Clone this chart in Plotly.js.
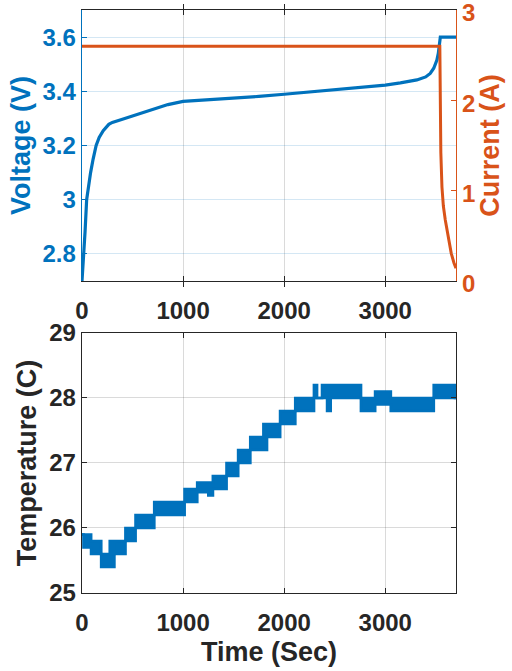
<!DOCTYPE html>
<html>
<head>
<meta charset="utf-8">
<script src="https://cdn.plot.ly/plotly-3.0.1.min.js"></script>
<style>html,body{margin:0;padding:0;background:#fff;}#chart{width:512px;height:671px;}</style>
</head>
<body>
<div id="chart"></div>
<script>
// ---- Data ----
// Voltage vs time (top panel, left axis)
var voltTime = [0, 5, 10, 20, 30, 46, 65, 85, 110, 140, 170, 210, 265, 300, 400, 508, 600, 740, 850, 1000, 1250, 1500, 1750, 2000, 2250, 2500, 2750, 3000, 3150, 3313, 3400, 3445, 3480, 3511, 3525, 3538, 3545, 3700];
var voltage  = [2.70, 2.74, 2.77, 2.81, 2.88, 3.00, 3.06, 3.10, 3.15, 3.20, 3.23, 3.255, 3.278, 3.285, 3.297, 3.31, 3.321, 3.337, 3.351, 3.363, 3.368, 3.374, 3.381, 3.389, 3.397, 3.405, 3.414, 3.423, 3.431, 3.442, 3.453, 3.466, 3.485, 3.515, 3.54, 3.58, 3.6, 3.6];
// Current vs time (top panel, right axis)
var currTime = [0, 3540, 3545, 3550, 3561, 3575, 3594, 3621, 3653, 3680, 3700];
var current  = [2.6, 2.6, 2.0, 1.42, 1.04, 0.83, 0.675, 0.49, 0.306, 0.2, 0.14];
// Temperature (bottom panel): reading band per interval, lower and upper value
var tempTime = [0, 15, 90, 190, 275, 300, 320, 430, 530, 715, 1015, 1140, 1250, 1295, 1430, 1545, 1665, 1795, 1830, 1960, 2110, 2295, 2325, 2375, 2425, 2460, 2760, 2900, 3055, 3480, 3690, 3710];
var tempLow  = [25.9, 25.7, 25.6, 25.4, 25.4, 25.4, 25.6, 25.8, 26.0, 26.2, 26.4, 26.55, 26.5, 26.6, 26.8, 27.0, 27.2, 27.2, 27.4, 27.6, 27.8, 28.0, 28.0, 28.0, 27.8, 28.0, 27.8, 27.9, 27.8, 28.0, 28.0, 28.0];
var tempHigh = [25.9, 25.9, 25.8, 25.6, 25.8, 25.6, 25.8, 26.0, 26.2, 26.4, 26.6, 26.7, 26.7, 26.8, 27.0, 27.2, 27.4, 27.6, 27.6, 27.8, 28.0, 28.2, 28.0, 28.2, 28.2, 28.2, 28.0, 28.1, 28.0, 28.2, 28.0, 28.0];
// Ticks
var xTicks = [0, 1000, 2000, 3000];
var vTicks = [2.8, 3, 3.2, 3.4, 3.6];
var vTickText = ['2.8', '3', '3.2', '3.4', '3.6'];
var iTicks = [0, 1, 2, 3];
var tTicks = [25, 26, 27, 28, 29];

var BLUE = '#0072BD', ORANGE = '#D95319', DARK = '#262626';
var FAM = 'Liberation Sans, Arial, Helvetica, sans-serif';
var tickFont = function (c) { return {family: FAM, size: 24, color: c, weight: 'bold'}; };
var titleFont = function (c) { return {family: FAM, size: 27, color: c, weight: 'bold'}; };
var GRID = 'rgba(38,38,38,0.17)';
var BGRID = 'rgba(0,114,189,0.17)';

var traces = [
  {x: voltTime, y: voltage, xaxis: 'x', yaxis: 'y', mode: 'lines', line: {color: BLUE, width: 3.2}, hoverinfo: 'skip'},
  {x: currTime, y: current, xaxis: 'x', yaxis: 'y2', mode: 'lines', line: {color: ORANGE, width: 3}, hoverinfo: 'skip'},
  {x: tempTime, y: tempLow, xaxis: 'x2', yaxis: 'y3', mode: 'lines', line: {color: BLUE, width: 2.7, shape: 'hv'}, hoverinfo: 'skip'},
  {x: tempTime, y: tempHigh, xaxis: 'x2', yaxis: 'y3', mode: 'lines', fill: 'tonexty', fillcolor: BLUE, line: {color: BLUE, width: 2.7, shape: 'hv'}, hoverinfo: 'skip'}
];

var xCommon = {
  range: [0, 3700], tickmode: 'array', tickvals: xTicks, ticks: 'inside', ticklen: 5, tickwidth: 1,
  tickcolor: DARK, showline: true, linecolor: DARK, linewidth: 1.3, mirror: 'allticks',
  showgrid: true, gridcolor: GRID, gridwidth: 1, zeroline: false, tickfont: tickFont(DARK),
  ticklabelstandoff: 8, ticklabeloverflow: 'allow'
};

var layout = {
  width: 512, height: 671,
  margin: {l: 82, r: 56, t: 10, b: 78},
  paper_bgcolor: '#fff', plot_bgcolor: '#fff',
  showlegend: false,
  xaxis: Object.assign({}, xCommon, {anchor: 'y', domain: [0, 1]}),
  yaxis: {
    domain: [0.5352, 1], anchor: 'x', range: [2.7, 3.7], tickmode: 'array', tickvals: vTicks, ticktext: vTickText,
    ticks: 'inside', ticklen: 5, tickwidth: 1, tickcolor: BLUE, showline: true, linecolor: BLUE, linewidth: 1.3,
    showgrid: true, gridcolor: BGRID, zeroline: false, tickfont: tickFont(BLUE), ticklabeloverflow: 'allow',
    title: {text: 'Voltage (V)', font: titleFont(BLUE), standoff: 4}
  },
  yaxis2: {
    overlaying: 'y', side: 'right', anchor: 'x', range: [0, 3], tickmode: 'array', tickvals: iTicks,
    ticks: 'inside', ticklen: 5, tickwidth: 1, tickcolor: ORANGE, showline: true, linecolor: ORANGE, linewidth: 1.3,
    showgrid: false, zeroline: false, tickfont: tickFont(ORANGE), ticklabeloverflow: 'allow', ticklabelshift: 3,
    title: {text: 'Current (A)', font: titleFont(ORANGE), standoff: 4}
  },
  xaxis2: Object.assign({}, xCommon, {anchor: 'y3', domain: [0, 1],
    title: {text: 'Time (Sec)', font: titleFont(DARK), standoff: 7}}),
  yaxis3: {
    domain: [0, 0.446], anchor: 'x2', range: [25, 29], tickmode: 'array', tickvals: tTicks,
    ticks: 'inside', ticklen: 5, tickwidth: 1, tickcolor: DARK, showline: true, linecolor: DARK, linewidth: 1.3,
    mirror: 'allticks', showgrid: true, gridcolor: GRID, zeroline: false, tickfont: tickFont(DARK), ticklabeloverflow: 'allow',
    title: {text: 'Temperature (C)', font: titleFont(DARK), standoff: 4}
  }
};

Plotly.newPlot('chart', traces, layout, {staticPlot: true, displayModeBar: false});
</script>
</body>
</html>
